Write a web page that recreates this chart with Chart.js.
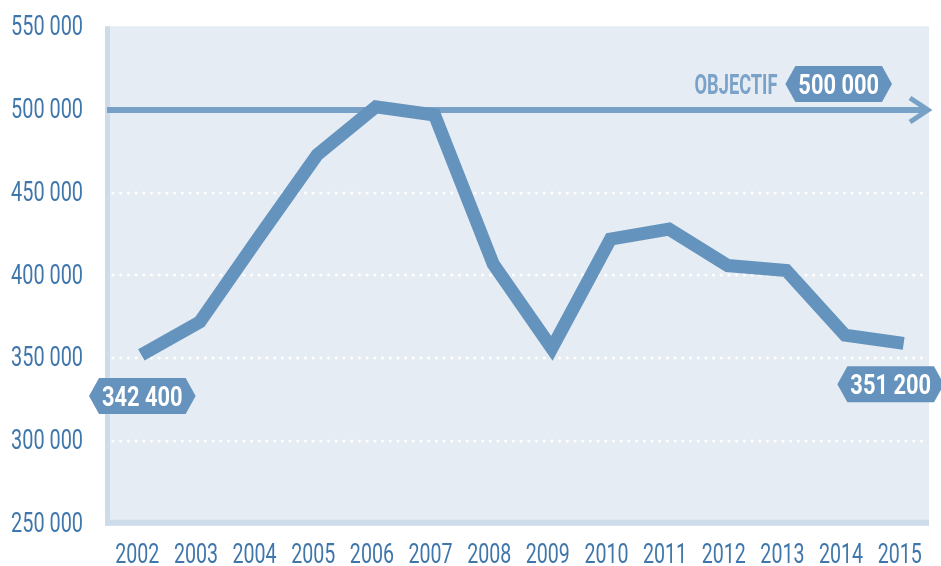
<!DOCTYPE html>
<html>
<head>
<meta charset="utf-8">
<script src="https://cdn.jsdelivr.net/npm/chart.js@4.4.1/dist/chart.umd.min.js"></script>
<style>
  html, body { margin: 0; padding: 0; background: #fff; }
</style>
</head>
<body>
<canvas id="chart" width="941" height="566"></canvas>
<script>
const years = ['2002', '2003', '2004', '2005', '2006', '2007', '2008', '2009', '2010', '2011', '2012', '2013', '2014', '2015'];
const visitors = [352000, 372000, 423000, 473000, 502000, 497000, 407000, 356000, 422000, 428000, 406000, 403000, 364000, 359000];
const yMin = 250000;
const yMax = 550000;
const yStep = 50000;
const objective = 500000;
const objectiveText = 'OBJECTIF';
const objectiveValue = '500 000';
const endLabels = ['342 400', '351 200'];

const FONT = "Roboto, 'Liberation Sans', sans-serif";
const TICK_COLOR = '#3f76ab';
const fmt = v => String(v).replace(/\B(?=(\d{3})+(?!\d))/g, ' ');

// condensed text: draw at size px, squeezed horizontally by sx, baseline at y
function narrowText(ctx, text, x, y, size, sx, bold, align, color) {
  ctx.save();
  ctx.font = (bold ? 'bold ' : '') + size + 'px ' + FONT;
  ctx.fillStyle = color;
  ctx.textAlign = align;
  ctx.textBaseline = 'alphabetic';
  ctx.translate(x, y);
  ctx.scale(sx, 1);
  ctx.fillText(text, 0, 0);
  const w = ctx.measureText(text).width * sx;
  ctx.restore();
  return w;
}

function badge(ctx, text, cx, cy) {
  ctx.save();
  ctx.font = 'bold 28px ' + FONT;
  const w = ctx.measureText(text).width * 0.78;
  ctx.restore();
  const half = w / 2 + 13, h = 18;
  ctx.fillStyle = '#6593bd';
  ctx.beginPath();
  ctx.moveTo(cx - half, cy);
  ctx.lineTo(cx - half + 10, cy - h);
  ctx.lineTo(cx + half - 10, cy - h);
  ctx.lineTo(cx + half, cy);
  ctx.lineTo(cx + half - 10, cy + h);
  ctx.lineTo(cx - half + 10, cy + h);
  ctx.closePath();
  ctx.fill();
  narrowText(ctx, text, cx, cy + 10, 28, 0.78, true, 'center', '#ffffff');
  return half;
}

const decor = {
  id: 'decor',
  beforeDraw(chart) {
    const { ctx, chartArea: a } = chart;
    const y = chart.scales.y, x = chart.scales.x;
    const left = a.left - 7, right = a.right - 4, top = a.top - 1, bottom = a.bottom + 2;
    ctx.save();
    ctx.fillStyle = '#e5ecf3';
    ctx.fillRect(left, top, right - left, bottom - top);
    ctx.fillStyle = '#cddcea';
    ctx.fillRect(left, top, 5, bottom - top);
    ctx.fillRect(left, bottom - 6, right - left, 6);
    ctx.strokeStyle = '#ffffff';
    ctx.lineWidth = 3.2;
    ctx.lineCap = 'round';
    ctx.setLineDash([0, 7.7]);
    y.ticks.forEach(t => {
      if (t.value <= yMin || t.value >= objective) return;
      const py = Math.round(y.getPixelForValue(t.value));
      ctx.beginPath();
      ctx.moveTo(left + 8, py);
      ctx.lineTo(right, py);
      ctx.stroke();
    });
    ctx.restore();
    // tick labels
    y.ticks.forEach(t => {
      narrowText(ctx, fmt(t.value), left - 22, y.getPixelForValue(t.value) + 8, 28, 0.71, false, 'right', TICK_COLOR);
    });
    years.forEach((yr, i) => {
      narrowText(ctx, yr, x.getPixelForValue(i) - 4, 563, 28, 0.7, false, 'center', TICK_COLOR);
    });
  },
  beforeDatasetsDraw(chart) {
    const { ctx, chartArea: a } = chart;
    const py = chart.scales.y.getPixelForValue(objective);
    const left = a.left - 5, tip = a.right - 5;
    ctx.save();
    ctx.strokeStyle = '#77a1c7';
    ctx.lineWidth = 6;
    ctx.beginPath();
    ctx.moveTo(left, py);
    ctx.lineTo(tip - 2, py);
    ctx.stroke();
    ctx.lineWidth = 5;
    ctx.lineJoin = 'miter';
    ctx.beginPath();
    ctx.moveTo(tip - 18, py - 12);
    ctx.lineTo(tip, py);
    ctx.lineTo(tip - 18, py + 12);
    ctx.stroke();
    ctx.restore();
  },
  afterDatasetsDraw(chart) {
    const { ctx } = chart;
    const x = chart.scales.x, y = chart.scales.y;
    const py = y.getPixelForValue(objective);
    const bx = x.getPixelForValue(years.length - 1) - 65;
    const half = badge(ctx, objectiveValue, bx, py - 26);
    narrowText(ctx, objectiveText, bx - half - 8, py - 16, 28, 0.65, true, 'right', '#7aa2c8');
    const pts = chart.getDatasetMeta(0).data;
    const first = pts[0], last = pts[pts.length - 1];
    badge(ctx, endLabels[0], first.x + 1, first.y + 41);
    badge(ctx, endLabels[1], last.x - 13, last.y + 41);
  }
};

new Chart(document.getElementById('chart'), {
  type: 'line',
  data: {
    labels: years,
    datasets: [{
      data: visitors,
      borderColor: '#6493bd',
      borderWidth: 13,
      borderJoinStyle: 'miter',
      borderCapStyle: 'butt',
      tension: 0,
      pointRadius: 0,
      fill: false
    }]
  },
  options: {
    responsive: false,
    animation: false,
    layout: { padding: { top: 27.3, right: 8, bottom: 0, left: 0 } },
    plugins: { legend: { display: false }, tooltip: { enabled: false } },
    scales: {
      x: {
        offset: true,
        grid: { display: false, drawTicks: false },
        border: { display: false },
        ticks: { display: false },
        afterFit: s => { s.height = 42.3; }
      },
      y: {
        min: yMin,
        max: yMax,
        grid: { display: false, drawTicks: false },
        border: { display: false },
        ticks: { display: false, stepSize: yStep },
        afterFit: s => { s.width = 112; }
      }
    }
  },
  plugins: [decor]
});
</script>
</body>
</html>
